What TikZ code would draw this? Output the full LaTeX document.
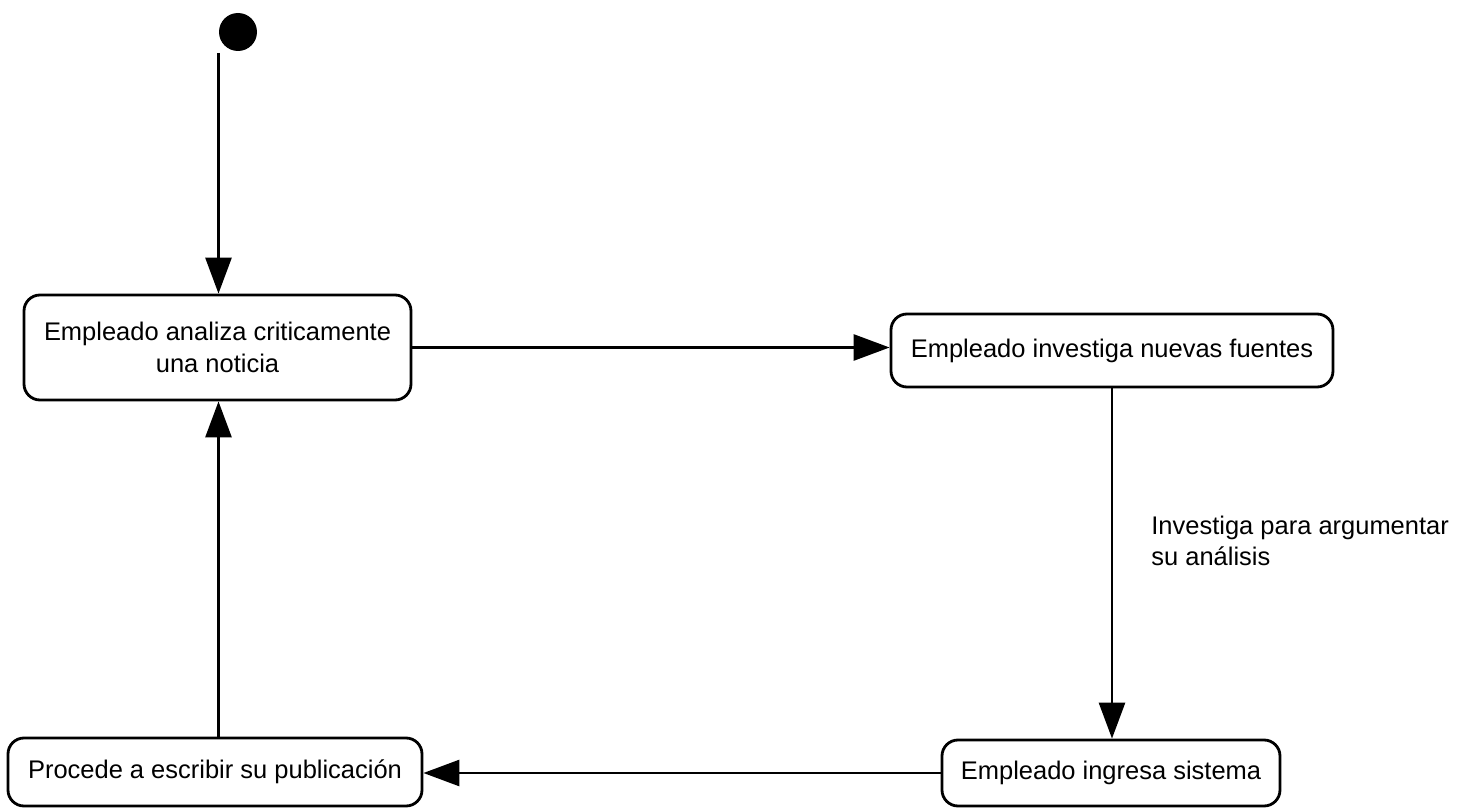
\documentclass[tikz,border=0pt]{standalone}
\usepackage{fontspec}
\setmainfont{Liberation Sans}
\usetikzlibrary{arrows.meta}

\begin{document}
\begin{tikzpicture}[line width=1.6pt,
    every node/.style={font=\fontsize{14.5}{18}\selectfont},
    state/.style={draw,rounded corners=0.32cm,align=center,inner sep=0pt},
    flow/.style={-{Triangle[length=0.72cm,width=0.52cm]}}]
    \useasboundingbox (0,0) rectangle (29.46,16.18);

    % === Start point ===
    \node[circle,fill=black,minimum size=0.76cm,inner sep=0pt] (start) at (4.76,15.54) {};
    \coordinate (s) at (4.37,15.12);

    % === States ===
    \node[state,minimum width=7.74cm,minimum height=2.1cm] (analiza) at (4.35,9.23) {Empleado analiza criticamente\\una noticia};
    \node[state,minimum width=8.84cm,minimum height=1.46cm] (investiga) at (22.24,9.17) {Empleado investiga nuevas fuentes};
    \node[state,minimum width=6.76cm,minimum height=1.32cm] (ingresa) at (22.22,0.72) {Empleado ingresa sistema};
    \node[state,minimum width=8.28cm,minimum height=1.36cm] (procede) at (4.30,0.74) {Procede a escribir su publicación};

    % === Transitions ===
    \draw[flow] (s) -- (s |- analiza.north);
    \draw[flow] (analiza.east) -- (analiza.east -| investiga.west);
    \draw[flow] (investiga.south) -- (investiga.south |- ingresa.north);
    \draw[flow] (ingresa.west) -- (ingresa.west -| procede.east);
    \draw[flow] (s |- procede.north) -- (s |- analiza.south);

    % === Transition label ===
    \node[anchor=west,align=left,inner sep=0pt] (motivo) at (23.0,5.36) {Investiga para argumentar\\su análisis};
\end{tikzpicture}
\end{document}
